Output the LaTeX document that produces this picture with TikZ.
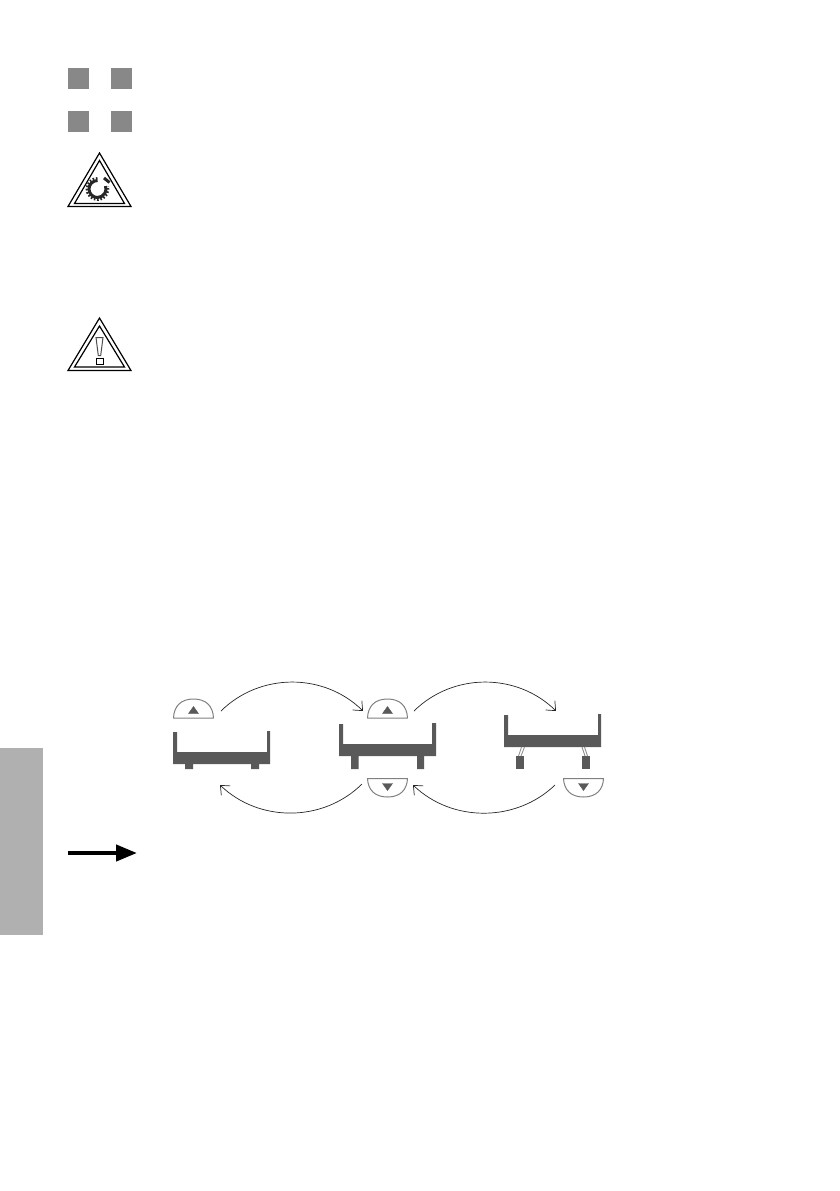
\documentclass[tikz,border=0pt]{standalone}
\usetikzlibrary{arrows.meta}
\definecolor{sq}{HTML}{888888}
\definecolor{bar}{HTML}{B0B0B0}
\definecolor{bed}{HTML}{595959}
\definecolor{btn}{HTML}{808080}
\tikzset{
  squarebox/.style={fill=sq,draw=none},
  tri/.style={draw=black,line width=1.2pt,line join=miter,fill=none},
  bedbody/.style={fill=bed,draw=none},
  button/.style={draw=btn,line width=1pt,fill=white,line join=round},
  btnmark/.style={fill=bed,draw=bed,line width=0.4pt},
  sweep/.style={draw=black!85,line width=0.7pt,-{Straight Barb[length=7.5pt,width=13pt,line width=0.7pt]}},
  leg/.style={draw=bed!70,line width=0.8pt}
}
\begin{document}
\begin{tikzpicture}[x=1pt,y=-1pt]
\useasboundingbox (0,0) rectangle (839,1191);
% sidebar
\fill[bar] (0,748) rectangle (43,935);
% squares
\fill[squarebox] (68,68) rectangle (89,89);
\fill[squarebox] (111,68) rectangle (132,89);
\fill[squarebox] (68,111) rectangle (89,132);
\fill[squarebox] (111,111) rectangle (132,132);
% warning triangle 1 (gear)
\draw[tri] (99.5,153) -- (131,206.5) -- (68,206.5) -- cycle;
\draw[tri] (99.5,160.5) -- (124.5,203.5) -- (74.5,203.5) -- cycle;
\draw[line width=3pt,black!85] (97.5,180.5) arc[start angle=-90,delta angle=-290,radius=8.5];
\draw[line width=2.5pt,black!85,dash pattern=on 1.6pt off 1.7pt] (97.5,178.3) arc[start angle=-90,delta angle=-285,radius=10.7];
\draw[line width=3pt,black!85] (104,178) -- (109.5,182.5);
% warning triangle 2 (exclamation)
\draw[tri] (99.5,318) -- (131,370.5) -- (68,370.5) -- cycle;
\draw[tri] (99.5,326) -- (124.5,367) -- (74.5,367) -- cycle;
\draw[draw=black!70,line width=1pt] (96,337.5) -- (103,337.5) -- (100.7,355.5) -- (98.3,355.5) -- cycle;
\draw[draw=black,line width=1pt] (96,358.3) rectangle (103,364.5);
% beds
\fill[bedbody] (173,732) -- (177,732) -- (177,752) -- (267,752) -- (267,731) -- (270,731) -- (270,764) -- (259,764) -- (259,769) -- (251,769) -- (251,764) -- (193,764) -- (193,769) -- (185,769) -- (185,764) -- (173,764) -- cycle;
\fill[bedbody] (339,724) -- (343,724) -- (343,744) -- (432,744) -- (432,723) -- (436,723) -- (436,756) -- (424,756) -- (424,769) -- (417,769) -- (417,756) -- (358.5,756) -- (358.5,769) -- (351,769) -- (351,756) -- (339,756) -- cycle;
\fill[bedbody] (504,715) -- (508,715) -- (508,735) -- (598,735) -- (598,714) -- (601,714) -- (601,747) -- (504,747) -- cycle;
\fill[bedbody] (516,756) rectangle (524,769);
\fill[bedbody] (582,756) rectangle (590,769);
\draw[leg] (518.5,756) -- (521.5,747);
\draw[leg] (521,756) -- (524.5,747);
\draw[leg] (585,756) -- (582,747);
\draw[leg] (587.5,756) -- (584.5,747);
% buttons
\draw[button] (173.5,718) .. controls (174,706) and (181,699) .. (193.5,699) .. controls (206,699) and (213,706) .. (213.5,718) -- cycle;
\fill[btnmark] (193.5,706.5) -- (198.5,713.5) -- (188.5,713.5) -- cycle;
\draw[button] (367.5,718) .. controls (368,706) and (375,699) .. (387.5,699) .. controls (400,699) and (407,706) .. (407.5,718) -- cycle;
\fill[btnmark] (387.5,706.5) -- (392.5,713.5) -- (382.5,713.5) -- cycle;
\draw[button] (367.5,778.5) .. controls (368,790) and (375,797) .. (387.5,797) .. controls (400,797) and (407,790) .. (407.5,778.5) -- cycle;
\fill[btnmark] (387.5,790.5) -- (392.5,783.5) -- (382.5,783.5) -- cycle;
\draw[button] (563.5,778.5) .. controls (564,790) and (571,797) .. (583.5,797) .. controls (596,797) and (603,790) .. (603.5,778.5) -- cycle;
\fill[btnmark] (583.5,790.5) -- (588.5,783.5) -- (578.5,783.5) -- cycle;
% connector ends
\coordinate (up1) at (221,711);
\coordinate (up2in) at (363,711);
\coordinate (up2out) at (414,711);
\coordinate (up3in) at (556,711);
\coordinate (dn1in) at (220,785);
\coordinate (dn2out) at (362,784);
\coordinate (dn2in) at (413,785);
\coordinate (dn3out) at (555,785);
\path[sweep] (up1) .. controls (260,672.5) and (324,672.5) .. (up2in);
\path[sweep] (up2out) .. controls (453,672.5) and (517,672.5) .. (up3in);
\path[sweep] (dn2out) .. controls (323,822.5) and (259,822.5) .. (dn1in);
\path[sweep] (dn3out) .. controls (516,822.5) and (452,822.5) .. (dn2in);
% big arrow
\coordinate (bigs) at (68,853);
\coordinate (bige) at (137,853);
\draw[line width=4.2pt,-{Triangle[length=21pt,width=16pt]}] (bigs) -- (bige);
\end{tikzpicture}
\end{document}
